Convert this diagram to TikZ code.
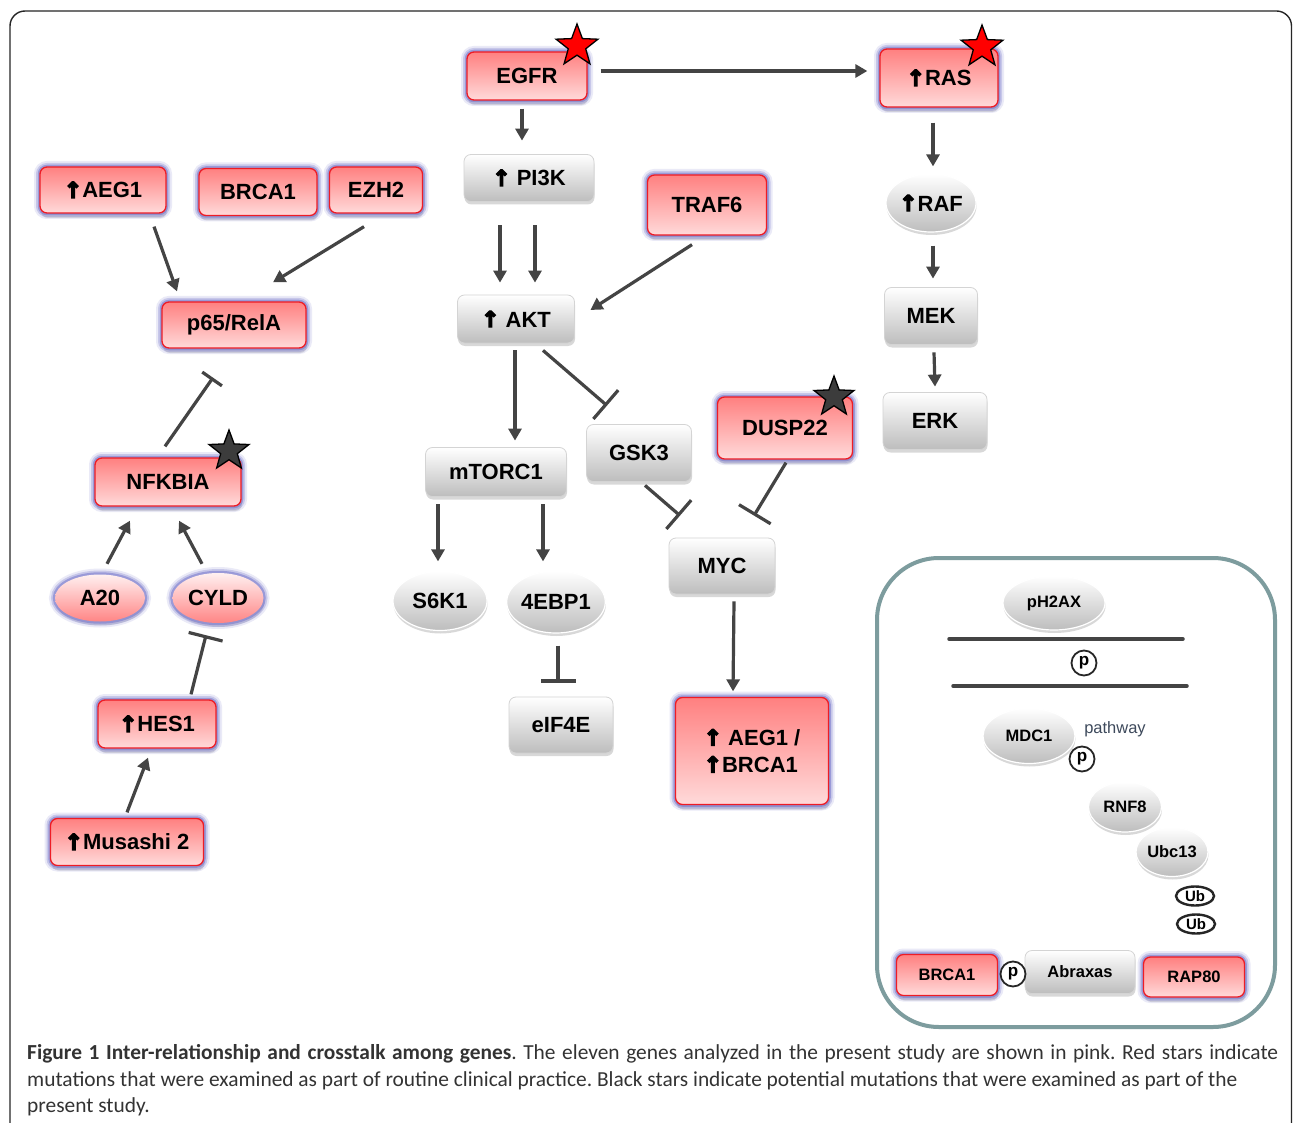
\documentclass[tikz,border=0pt]{standalone}
\usepackage{fontspec}
\setmainfont{Liberation Sans}
\newfontfamily\capfont{Carlito}
\newfontfamily\symfont[FakeBold=6]{DejaVu Sans}
\usetikzlibrary{arrows.meta,shapes.geometric,shadows}
\definecolor{pinktop}{HTML}{FF8080}
\definecolor{pinkbot}{HTML}{FFDADA}
\definecolor{boxred}{HTML}{EE1C25}
\definecolor{glowc}{HTML}{6E6EC8}
\definecolor{arrc}{HTML}{444444}
\definecolor{grayb}{HTML}{D4D4D4}
\definecolor{graybot}{HTML}{BDBDBD}
\definecolor{insetc}{HTML}{7D9C9E}
\definecolor{starblack}{HTML}{3C3C3C}
\definecolor{pathc}{HTML}{3E4A5C}
\definecolor{elltop}{HTML}{FFF0F0}
\definecolor{ellbot}{HTML}{FF8585}
\newcommand{\upa}{{\symfont ↑}}
\newcommand{\fbig}{\fontsize{22}{25}\selectfont\bfseries}
\newcommand{\fsmall}{\fontsize{16.5}{19}\selectfont\bfseries}
\tikzset{
  sz/.style 2 args={minimum width=#1pt, minimum height=#2pt},
  glow/.style={preaction={draw=glowc, line width=12pt, opacity=.14},
               preaction={draw=glowc, line width=8pt, opacity=.28},
               preaction={draw=glowc, line width=4.5pt, opacity=.5}},
  pinkbox/.style={rectangle, rounded corners=7pt, drop shadow={opacity=.25, shadow xshift=1pt, shadow yshift=-5pt}, glow,
    draw=boxred, line width=1.3pt, top color=pinktop, bottom color=pinkbot, font=\fbig, inner sep=0pt},
  pinkell/.style={ellipse, drop shadow={opacity=.2, shadow xshift=1pt, shadow yshift=-4pt}, glow,
    draw=none, top color=elltop, bottom color=ellbot, font=\fbig, inner sep=0pt},
  graybox/.style={rectangle, rounded corners=7pt, drop shadow={opacity=.3, shadow xshift=.5pt, shadow yshift=-3pt},
    draw=grayb, line width=.8pt, top color=white, bottom color=graybot, font=\fbig, inner sep=0pt},
  grayell/.style={ellipse, drop shadow={opacity=.3, shadow xshift=.5pt, shadow yshift=-3pt},
    draw=white, line width=1.2pt, top color=white, bottom color=graybot, font=\fbig, inner sep=0pt},
  redstar/.style={star, star points=5, star point ratio=2.4, minimum size=44pt, inner sep=0pt, fill=red, draw=black, line width=1.3pt},
  blackstar/.style={star, star points=5, star point ratio=2.4, minimum size=42pt, inner sep=0pt, fill=starblack, draw=black, line width=1.3pt},
  arr/.style={draw=arrc, line width=3.2pt, -{Triangle[length=12pt, width=13pt]}},
  inh/.style={draw=arrc, line width=3.2pt, -{Bar[width=#1]}},
  inh/.default=36pt,
  pcirc/.style={circle, draw=black!85, line width=1.8pt, fill=white, minimum size=25pt, inner sep=0pt, font=\fontsize{17}{17}\selectfont\bfseries},
  ubell/.style={ellipse, draw=black!85, line width=2.4pt, fill=white, minimum width=38pt, minimum height=19pt, inner sep=0pt, font=\fontsize{15}{15}\selectfont\bfseries},
  capt/.style={font=\capfont\fontsize{21.4}{27}\selectfont, inner sep=0pt, text=black!80},
}
\frenchspacing
\begin{document}
\begin{tikzpicture}[x=1pt, y=-1pt]
\useasboundingbox (0,0) rectangle (1293,1123);
\fill[white] (0,0) rectangle (1293,1123);
% outer frame
\draw[black!85, line width=1.4pt, rounded corners=15pt] (10,1140) -- (10,11) -- (1291.5,11) -- (1291.5,1140);

% ---------- left column ----------
\node[pinkbox, sz={126}{46}] (aegA) at (103,190) {\upa AEG1\hspace{22pt}};
\node[pinkbox, sz={118}{47}] (brcaA) at (258,192) {BRCA1};
\node[pinkbox, sz={93}{46}] (ezh2) at (376,190) {EZH2};
\node[pinkbox, sz={144}{46}] (p65) at (234,325) {p65/RelA};
\node[pinkbox, sz={146}{48}] (nfkbia) at (168,482) {NFKBIA};
\node[blackstar] (starN) at (229,451) {};
\node[pinkell, sz={90}{47}] (a20) at (100,598) {A20};
\node[pinkell, sz={91}{50}] (cyld) at (218,598) {CYLD};
\node[pinkbox, sz={118}{48}] (hes1) at (157,724) {\upa HES1\hspace{20pt}};
\node[pinkbox, sz={153}{47}] (mus) at (127,842) {\upa Musashi 2\hspace{20pt}};

% ---------- middle ----------
\node[pinkbox, sz={120}{48}] (egfr) at (527,76) {EGFR};
\node[redstar] (starE) at (577,46) {};
\node[pinkbox, sz={118}{58}] (ras) at (939,78) {\upa RAS\hspace{22pt}};
\node[redstar] (starR) at (982,47) {};
\node[graybox, sz={130}{47}] (pi3k) at (529,178) {\upa\ PI3K\hspace{14pt}};
\node[pinkbox, sz={119}{60}] (traf6) at (707,205) {TRAF6};
\node[graybox, sz={117}{48}] (akt) at (516,319) {\upa\ AKT\hspace{14pt}};
\node[grayell, sz={84}{58}] (raf) at (931,203) {\upa RAF};
\node[graybox, sz={93}{57}] (mek) at (931,316) {MEK};
\node[graybox, sz={104}{57}] (erk) at (935,421) {ERK};
\node[graybox, sz={141}{49}] (mtorc) at (496,472) {mTORC1};
\node[graybox, sz={105}{57}] (gsk3) at (639,453) {GSK3};
\node[pinkbox, sz={135}{62}] (dusp) at (785,428) {DUSP22};
\node[blackstar] (starD) at (834,397) {};
\node[graybox, sz={106}{56}] (myc) at (722,566) {MYC};
\node[pinkbox, sz={153}{107}, align=left] (aegbrca) at (752,751) {\upa\ AEG1 /\\[2pt]\upa BRCA1};
\node[grayell, sz={94}{59}] (s6k1) at (440,601) {S6K1};
\node[grayell, sz={94}{62}] (ebp) at (556,602) {4EBP1};
\node[graybox, sz={104}{56}] (eif4e) at (561,725) {eIF4E};

% ---------- connectors ----------
\draw[arr] ([shift={(13pt,5pt)}]egfr.east) -- ([shift={(-12pt,7pt)}]ras.west);
\draw[arr] ([shift={(-5pt,-8pt)}]egfr.south) -- ([shift={(-7pt,13.5pt)}]pi3k.north);
\draw[arr] ([shift={(-29pt,-23.5pt)}]pi3k.south) -- ([shift={(-16pt,12pt)}]akt.north);
\draw[arr] ([shift={(6pt,-23.5pt)}]pi3k.south) -- ([shift={(19pt,12pt)}]akt.north);
\draw[arr] ([shift={(-15pt,-9pt)}]traf6.south) -- ([shift={(15.5pt,9pt)}]akt.east);
\draw[arr] ([shift={(-6pt,-15pt)}]ras.south) -- ([shift={(2pt,7pt)}]raf.north);
\draw[arr] ([shift={(2pt,-13pt)}]raf.south) -- ([shift={(2pt,8.5pt)}]mek.north);
\draw[arr] ([shift={(3pt,-7.5pt)}]mek.south) -- ([shift={(0pt,5.5pt)}]erk.north);
\draw[arr] ([shift={(-1pt,-7pt)}]akt.south) -- ([shift={(19pt,6.5pt)}]mtorc.north);
\draw[inh=38pt] ([shift={(27pt,-7pt)}]akt.south) -- ([shift={(-32pt,18.5pt)}]gsk3.north);
\draw[arr] ([shift={(-58pt,-7.5pt)}]mtorc.south) -- ([shift={(-2pt,9.5pt)}]s6k1.north);
\draw[arr] ([shift={(47pt,-7.5pt)}]mtorc.south) -- ([shift={(-13pt,9pt)}]ebp.north);
\draw[inh=35pt] ([shift={(2pt,-12pt)}]ebp.south) -- ([shift={(-3pt,14pt)}]eif4e.north);
\draw[inh=38pt] ([shift={(6pt,-3.5pt)}]gsk3.south) -- ([shift={(-42pt,22pt)}]myc.north);
\draw[inh=37pt] ([shift={(1pt,-3pt)}]dusp.south) -- ([shift={(32pt,22pt)}]myc.north);
\draw[arr] ([shift={(12pt,-7pt)}]myc.south) -- ([shift={(-19pt,5.5pt)}]aegbrca.north);

\draw[arr] ([shift={(51pt,-13pt)}]aegA.south) -- ([shift={(-57pt,10pt)}]p65.north);
\draw[arr] ([shift={(-12pt,-13pt)}]ezh2.south) -- ([shift={(39pt,19pt)}]p65.north);
\draw[inh=24pt] ([shift={(-3pt,11pt)}]nfkbia.north) -- ([shift={(-21pt,-29pt)}]p65.south);
\draw[arr] ([shift={(7pt,10.5pt)}]a20.north) -- ([shift={(-38pt,-14pt)}]nfkbia.south);
\draw[arr] ([shift={(-16pt,9pt)}]cyld.north) -- ([shift={(11pt,-14pt)}]nfkbia.south);
\draw[inh=35pt] ([shift={(34pt,5pt)}]hes1.north) -- ([shift={(-12pt,-12pt)}]cyld.south);
\draw[arr] ([shift={(0pt,5.5pt)}]mus.north) -- ([shift={(-9pt,-9pt)}]hes1.south);

% ---------- inset ----------
\draw[insetc, line width=4pt, rounded corners=62pt] (877,558) rectangle (1275,1027);
\node[grayell, sz={102}{54}, font=\fsmall] (ph2ax) at (1054,603) {pH2AX};
\draw[arrc, line width=3.5pt, line cap=round] (949,639) -- (1183,639);
\node[pcirc] (pA) at (1084,663) {p};
\draw[arrc, line width=3.5pt, line cap=round] (953,686) -- (1187,686);
\node[grayell, sz={92}{55}, font=\fsmall] (mdc1) at (1029,736) {MDC1};
\node[font=\fontsize{16.5}{19}\selectfont, text=pathc, inner sep=0pt] (pathw) at (1115,729) {pathway};
\node[pcirc] (pB) at (1082,759) {p};
\node[grayell, sz={73}{50}, font=\fsmall] (rnf8) at (1125,807) {RNF8};
\node[grayell, sz={72}{49}, font=\fsmall] (ubc13) at (1172,852) {Ubc13};
\node[ubell] (ubA) at (1195,896) {Ub};
\node[ubell] (ubB) at (1196,924) {Ub};
\node[pinkbox, sz={101}{41}, font=\fsmall] (brcaB) at (947,975) {BRCA1};
\node[graybox, sz={110}{43}, font=\fsmall] (abrx) at (1080,972) {Abraxas};
\node[pinkbox, sz={101}{40}, font=\fsmall] (rap80) at (1194,977) {RAP80};
\node[pcirc] (pC) at (1013,974) {p};

% ---------- caption ----------
\node[capt, anchor=base west] (cap1) at (27,1059) {\makebox[1251pt][s]{\textbf{Figure 1 Inter-relationship and crosstalk among genes}. The eleven genes analyzed in the present study are shown in pink. Red stars indicate}};
\node[capt, anchor=base west] (cap2) at (27,1086) {mutations that were examined as part of routine clinical practice. Black stars indicate potential mutations that were examined as part of the};
\node[capt, anchor=base west] (cap3) at (27,1112) {present study.};
\end{tikzpicture}
\end{document}
